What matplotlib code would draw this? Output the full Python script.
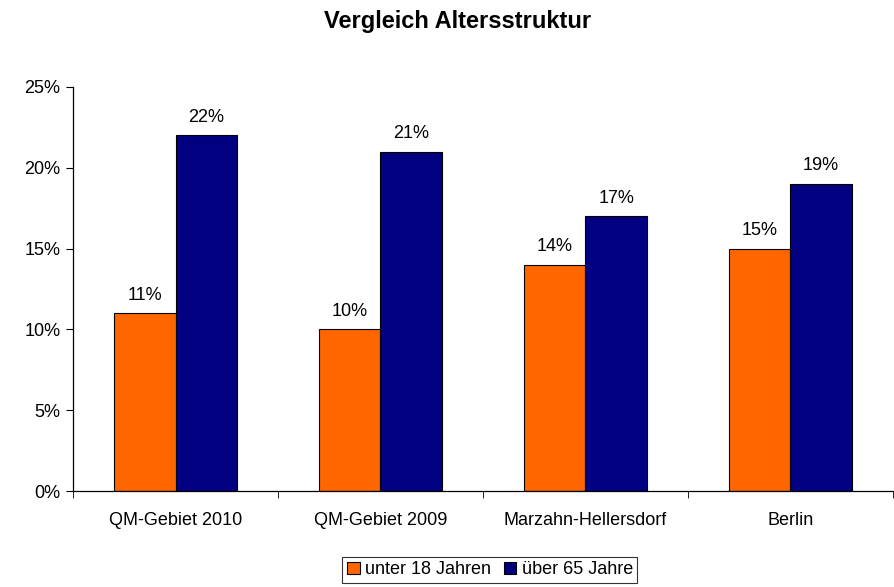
import matplotlib

matplotlib.use("Agg")
import matplotlib.pyplot as plt
import numpy as np
from matplotlib.ticker import FixedLocator

plt.rcParams["font.family"] = ["Liberation Sans", "DejaVu Sans"]

categories = ["QM-Gebiet 2010", "QM-Gebiet 2009", "Marzahn-Hellersdorf", "Berlin"]
under_18 = [11, 10, 14, 15]
over_65 = [22, 21, 17, 19]
series_names = ["unter 18 Jahren", "über 65 Jahre"]
y_ticks = [0, 5, 10, 15, 20, 25]

fs = 13

fig = plt.figure(figsize=(8.94, 5.87), dpi=100)
ax = fig.add_axes([0.0817, 0.1635, 0.917, 0.6883])

x = np.arange(len(categories))
width = 0.3
bars_u = ax.bar(x - width / 2, under_18, width, color="#FF6600", edgecolor="black", linewidth=0.8, label=series_names[0])
bars_o = ax.bar(x + width / 2, over_65, width, color="#000080", edgecolor="black", linewidth=0.8, label=series_names[1])

for bars, vals in ((bars_u, under_18), (bars_o, over_65)):
    for b, v in zip(bars, vals):
        ax.annotate(f"{v}%", (b.get_x() + b.get_width() / 2, v), xytext=(0, 7), textcoords="offset points",
                    ha="center", va="bottom", fontsize=fs)

ax.set_xlim(-0.5, len(categories) - 0.5)
ax.set_ylim(0, 25)
ax.set_yticks(y_ticks)
ax.set_yticklabels([f"{t}%" for t in y_ticks], fontsize=fs)
ax.set_xticks(x)
ax.set_xticklabels(categories, fontsize=fs)
ax.tick_params(axis="x", length=0, pad=15)
ax.xaxis.set_minor_locator(FixedLocator(np.arange(len(categories) + 1) - 0.5))
ax.tick_params(axis="x", which="minor", length=5, direction="out")
ax.tick_params(axis="y", length=5, direction="out", pad=4)
for side in ("top", "right"):
    ax.spines[side].set_visible(False)
ax.spines["left"].set_linewidth(0.9)
ax.spines["bottom"].set_linewidth(0.9)

fig.text(0.512, 0.964, "Vergleich Altersstruktur", fontsize=17, fontweight="bold", ha="center", va="center")

leg = fig.legend(loc="center", bbox_to_anchor=(0.548, 0.029), ncol=2, fontsize=fs, frameon=True, fancybox=False,
                 edgecolor="black", handlelength=0.7, handleheight=0.7, handletextpad=0.3, columnspacing=0.7,
                 borderpad=0.25)
leg.get_frame().set_linewidth(0.8)

fig.savefig("out.png", dpi=100)
